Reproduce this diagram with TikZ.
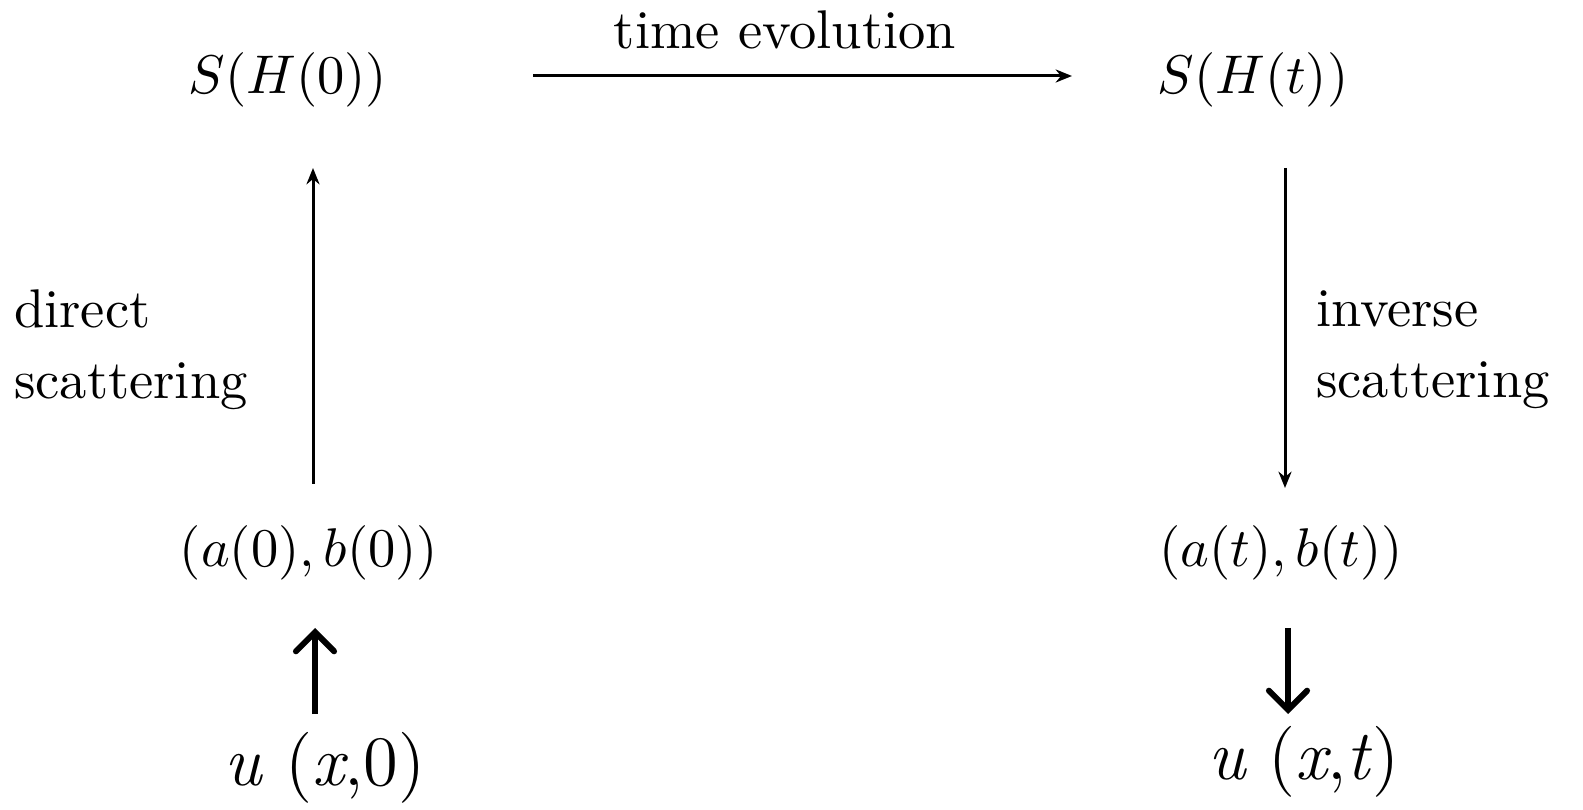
\documentclass[tikz,border=0pt]{standalone}
\usepackage{fontspec}
\newcommand{\ti}[1]{{\itshape #1}}
\usetikzlibrary{arrows.meta}
\begin{document}
\begin{tikzpicture}[x=0.1835pt,y=-0.1835pt,
  lbl/.style={inner sep=0pt,font=\normalsize},
  txt/.style={inner sep=0pt,align=left,font=\normalsize},
  big/.style={inner sep=0pt,font=\fontsize{13}{15}\selectfont},
  thin/.style={line width=0.55pt,-{Stealth[length=3pt,width=2.4pt]}},
  thick/.style={line width=1.1pt,-{Straight Barb[length=3.5pt,width=7pt,line cap=round]}}]
\useasboundingbox (0,0) rectangle (1583,810);
\node[lbl] (S0) at (288,80) {$S(H(0))$};
\node[lbl] (St) at (1253,80) {$S(H(t))$};
\node[lbl] (A0) at (309,553) {$(a(0),b(0))$};
\node[lbl] (At) at (1281,553) {$(a(t),b(t))$};
\node[lbl] (te) at (785,30) {time evolution};
\node[txt,anchor=west] (ds) at (13,350) {direct\\[1pt]scattering};
\node[txt,anchor=west] (is) at (1315,350) {inverse\\[1pt]scattering};
\node[big] (u0) at (325,768) {\ti{u} (\ti{x},0)};
\node[big] (ut) at (1304,762) {\ti{u} (\ti{x},\ti{t}\/)};
\coordinate (h1) at (533,76);
\coordinate (h2) at (1072,76);
\draw[thin] (h1) -- (h2);
\coordinate (l1) at (313,484);
\coordinate (l2) at (313,168);
\draw[thin] (l1) -- (l2);
\coordinate (r1) at (1285,168);
\coordinate (r2) at (1285,488);
\draw[thin] (r1) -- (r2);
\coordinate (b1) at (315,714);
\coordinate (b2) at (315,628);
\draw[thick] (b1) -- (b2);
\coordinate (c1) at (1288,628);
\coordinate (c2) at (1288,714);
\draw[thick] (c1) -- (c2);
\end{tikzpicture}
\end{document}
